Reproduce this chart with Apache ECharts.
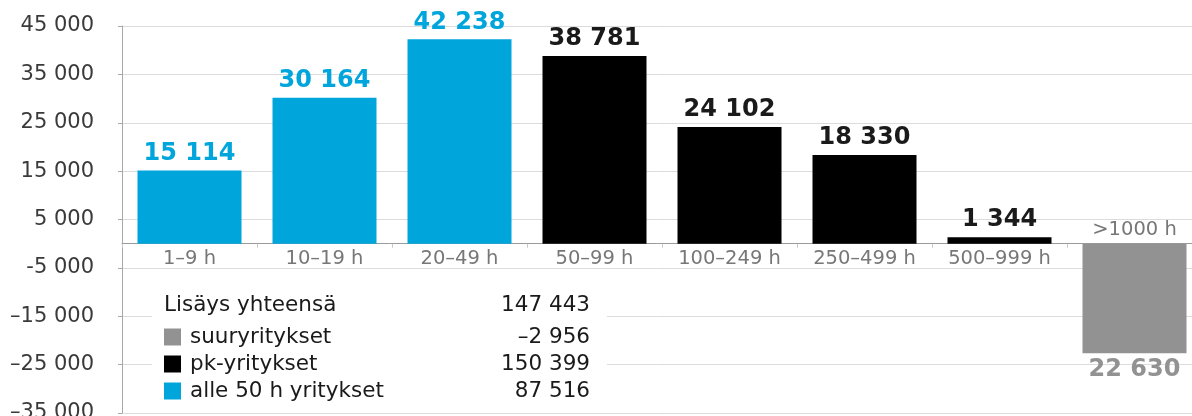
<!DOCTYPE html>
<html>
<head>
<meta charset="utf-8">
<script src="https://cdn.jsdelivr.net/npm/echarts@6/dist/echarts.min.js"></script>
<style>
  html, body { margin: 0; padding: 0; background: #fff; }
  #chart { width: 1192px; height: 416px; }
</style>
</head>
<body>
<div id="chart"></div>
<script>
const categories = ['1–9 h', '10–19 h', '20–49 h', '50–99 h', '100–249 h', '250–499 h', '500–999 h', '>1000 h'];
const smallFirms = [15114, 30164, 42238, '-', '-', '-', '-', '-'];
const smeFirms = ['-', '-', '-', 38781, 24102, 18330, 1344, '-'];
const largeFirms = ['-', '-', '-', '-', '-', '-', '-', -22630];

const yTicks = [-35000, -25000, -15000, -5000, 5000, 15000, 25000, 35000, 45000];
const yTickLabels = ['–35 000', '–25 000', '–15 000', '-5 000', '5 000', '15 000', '25 000', '35 000', '45 000'];

const totalLabel = 'Lisäys yhteensä';
const totalValue = 147443;
const legendNames = ['suuryritykset', 'pk-yritykset', 'alle 50 h yritykset'];
const legendTotals = [-2956, 150399, 87516];

const BLUE = '#00a5dc';
const BLACK = '#000000';
const GRAY = '#929292';
const FONT = 'DejaVu Sans';

// grid geometry (pixels)
const GRID_TOP = 26, GRID_BOTTOM = 3, CHART_H = 416;
const Y_MIN = -35000, Y_MAX = 45000;
const plotH = CHART_H - GRID_TOP - GRID_BOTTOM;
const zeroOffset = -plotH * (0 - Y_MIN) / (Y_MAX - Y_MIN);

function fmt(v, signed) {
  const s = String(Math.abs(v)).replace(/\B(?=(\d{3})+(?!\d))/g, ' ');
  return (signed && v < 0 ? '–' : '') + s;
}

const chart = echarts.init(document.getElementById('chart'));

function barSeries(name, data, color, labelColor) {
  return {
    name: name,
    type: 'bar',
    data: data,
    barWidth: 104,
    barGap: '-100%',
    itemStyle: { color: color },
    label: {
      show: true,
      position: 'outside',
      distance: 5,
      color: labelColor,
      fontFamily: FONT,
      fontWeight: 'bold',
      fontSize: 24,
      formatter: p => fmt(p.value, false)
    }
  };
}

chart.setOption({
  animation: false,
  grid: { left: 122, right: -10, top: GRID_TOP, bottom: GRID_BOTTOM, outerBoundsMode: 'none', containLabel: false },
  xAxis: {
    type: 'category',
    data: categories,
    position: 'bottom',
    offset: zeroOffset,
    axisLine: { onZero: false, lineStyle: { color: '#9a9a9a', width: 1 } },
    axisTick: { show: true, length: 4, lineStyle: { color: '#c8c8c8' } },
    axisLabel: {
      margin: 5,
      color: '#777777',
      fontFamily: FONT,
      fontSize: 19.5,
      formatter: (v, i) => (largeFirms[i] !== '-' ? '' : v)
    }
  },
  yAxis: {
    type: 'value',
    min: Y_MIN,
    max: Y_MAX,
    interval: 10000,
    axisLine: { show: true, lineStyle: { color: '#a8a8a8' } },
    axisTick: { show: true, length: 4, lineStyle: { color: '#a8a8a8' } },
    splitLine: { lineStyle: { color: '#dcdcdc' } },
    axisLabel: {
      margin: 28,
      color: '#3a3a3a',
      fontFamily: FONT,
      fontSize: 21,
      formatter: v => yTickLabels[yTicks.indexOf(v)] || ''
    }
  },
  legend: {
    data: legendNames,
    orient: 'vertical',
    left: 164,
    top: 326,
    padding: 0,
    z: 20,
    itemWidth: 17,
    itemHeight: 17,
    itemGap: 5,
    icon: 'rect',
    selectedMode: false,
    formatter: name => '{n|' + name + '}{v|' + fmt(legendTotals[legendNames.indexOf(name)], true) + '}',
    textStyle: {
      rich: {
        n: { width: 290, padding: [0, 0, 0, 4], fontFamily: FONT, fontSize: 21.5, color: '#1a1a1a', lineHeight: 24 },
        v: { width: 110, align: 'right', fontFamily: FONT, fontSize: 21.5, color: '#1a1a1a', lineHeight: 24 }
      }
    }
  },
  graphic: [
    { type: 'rect', z: 10, shape: { x: 152, y: 269, width: 455, height: 142 }, style: { fill: '#ffffff' } },
    { type: 'text', z: 11, x: 164, y: 305, style: { text: totalLabel, font: '21.5px "DejaVu Sans"', fill: '#1a1a1a', verticalAlign: 'middle' } },
    { type: 'text', z: 11, x: 590, y: 305, style: { text: fmt(totalValue, true), font: '21.5px "DejaVu Sans"', fill: '#1a1a1a', align: 'right', verticalAlign: 'middle' } }
  ],
  series: [
    barSeries('alle 50 h yritykset', smallFirms, BLUE, BLUE),
    barSeries('pk-yritykset', smeFirms, BLACK, '#1a1a1a'),
    barSeries('suuryritykset', largeFirms, GRAY, GRAY),
    {
      name: 'category-label',
      type: 'bar',
      data: largeFirms,
      barWidth: 104,
      barGap: '-100%',
      silent: true,
      itemStyle: { color: 'rgba(0,0,0,0)' },
      label: {
        show: true,
        position: 'top',
        distance: 4,
        color: '#777777',
        fontFamily: FONT,
        fontSize: 19.5,
        formatter: p => categories[p.dataIndex]
      }
    }
  ]
});
</script>
</body>
</html>
